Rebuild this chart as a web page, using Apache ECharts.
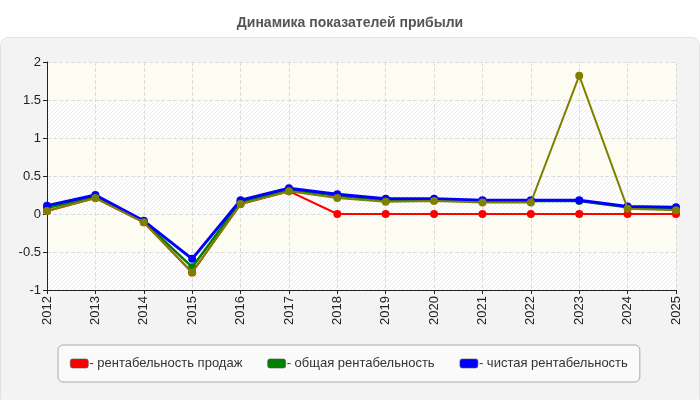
<!DOCTYPE html>
<html>
<head>
<meta charset="utf-8">
<script src="https://cdn.jsdelivr.net/npm/echarts@6/dist/echarts.min.js"></script>
<style>
  html, body { margin: 0; padding: 0; background: #fff; }
  #chart { width: 700px; height: 400px; }
</style>
</head>
<body>
<div id="chart"></div>
<script>
// данные
const years = ['2012','2013','2014','2015','2016','2017','2018','2019','2020','2021','2022','2023','2024','2025'];
const salesProfit = [0.04, 0.21, -0.11, -0.77, 0.13, 0.30, 0, 0, 0, 0, 0, 0, 0, 0];
const totalProfit = [0.08, 0.23, -0.10, -0.70, 0.16, 0.32, 0.24, 0.18, 0.19, 0.17, 0.17, 0.17, 0.09, 0.07];
const netProfit = [0.11, 0.25, -0.09, -0.59, 0.18, 0.34, 0.26, 0.20, 0.20, 0.18, 0.18, 0.18, 0.10, 0.09];
const extraProfit = [0.04, 0.21, -0.11, -0.77, 0.13, 0.30, 0.21, 0.16, 0.17, 0.15, 0.15, 1.82, 0.07, 0.05];

// штриховка фона
const hatch = document.createElement('canvas');
hatch.width = 4; hatch.height = 4;
const hc = hatch.getContext('2d');
hc.fillStyle = '#ffffff';
hc.fillRect(0, 0, 4, 4);
hc.strokeStyle = '#ececec';
hc.lineWidth = 1;
hc.beginPath();
hc.moveTo(0, 4); hc.lineTo(4, 0);
hc.moveTo(-1, 1); hc.lineTo(1, -1);
hc.moveTo(3, 5); hc.lineTo(5, 3);
hc.stroke();

const font = 'Liberation Sans';
let myChart = echarts.init(document.getElementById('chart'));

const mkLine = (name, data, color, width, z) => ({
    name: name,
    type: 'line',
    data: data,
    z: z,
    symbol: 'circle',
    symbolSize: 8,
    lineStyle: { color: color, width: width },
    itemStyle: { color: color },
    emphasis: { disabled: true }
});

myChart.setOption({
    animation: false,
    textStyle: { fontFamily: font },
    title: {
        text: 'Динамика показателей прибыли',
        left: 'center',
        top: 11,
        textStyle: { fontSize: 14, fontWeight: 'bold', color: '#555', fontFamily: font }
    },
    graphic: [{
        type: 'rect',
        z: -10,
        shape: { x: 0.5, y: 37.5, width: 699, height: 370, r: 8 },
        style: { fill: '#f3f3f3', stroke: '#e2e2e2', lineWidth: 1 }
    }],
    legend: {
        data: ['рентабельность продаж', 'общая рентабельность', 'чистая рентабельность'],
        left: 58,
        top: 345,
        width: 600,
        padding: [12, 12, 12, 12],
        itemGap: 25,
        itemWidth: 18,
        itemHeight: 9,
        icon: 'roundRect',
        backgroundColor: '#fafafa',
        borderColor: '#aaa',
        borderWidth: 1,
        borderRadius: 5,
        formatter: '- {name}',
        itemStyle: { borderColor: '#555', borderWidth: 0.6 },
        textStyle: { fontSize: 13, color: '#333', fontFamily: font, padding: [0, 0, 0, -4] }
    },
    grid: {
        left: 47,
        right: 24,
        top: 62,
        bottom: 110,
        show: true,
        borderWidth: 0,
        backgroundColor: { image: hatch, repeat: 'repeat' }
    },
    xAxis: {
        type: 'category',
        data: years,
        boundaryGap: false,
        axisLine: { onZero: false, lineStyle: { color: '#222', width: 1 } },
        axisTick: { show: true, alignWithLabel: true, length: 4, lineStyle: { color: '#222' } },
        axisLabel: { rotate: 90, fontSize: 13, color: '#222', margin: 6, fontFamily: font },
        splitLine: { show: true, lineStyle: { color: '#ddd', type: 'dashed' } }
    },
    yAxis: {
        type: 'value',
        min: -1,
        max: 2,
        interval: 0.5,
        axisLine: { show: true, lineStyle: { color: '#222', width: 1 } },
        axisTick: { show: true, length: 4, lineStyle: { color: '#222' } },
        axisLabel: { fontSize: 13, color: '#222', margin: 6, fontFamily: font },
        splitLine: { show: true, lineStyle: { color: '#ddd', type: 'dashed' } },
        splitArea: { show: true, areaStyle: { color: ['rgba(255,255,255,0)', 'rgba(253,253,243,0.9)'] } }
    },
    series: [
        mkLine('рентабельность продаж', salesProfit, '#ff0000', 2, 2),
        mkLine('общая рентабельность', totalProfit, '#008000', 2.5, 3),
        mkLine('чистая рентабельность', netProfit, '#0000ff', 3, 4),
        mkLine('прочая рентабельность', extraProfit, '#808000', 2, 5)
    ]
});
</script>
</body>
</html>
